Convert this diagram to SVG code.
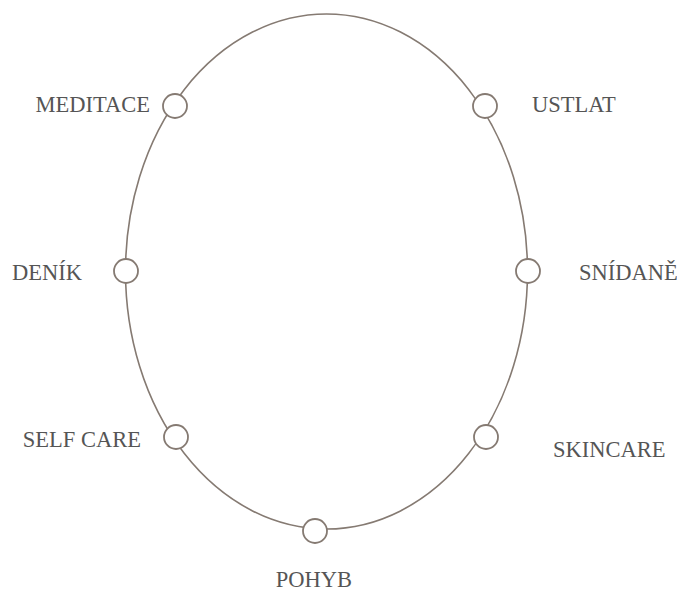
<svg xmlns="http://www.w3.org/2000/svg" width="677" height="593" viewBox="0 0 677 593">
<style>
.ring{fill:none;stroke:#857a72;stroke-width:1.6}
.dot{fill:#fff;stroke:#857a72;stroke-width:1.8}
.lbl{font-family:"Liberation Serif","DejaVu Serif",serif;font-size:22.5px;fill:#555;}
</style>
<rect width="677" height="593" fill="#fff"/>
<g id="connectors">
<ellipse class="ring" cx="326.5" cy="271.5" rx="201" ry="257.5"/>
</g>
<g id="meditace"><circle class="dot" cx="175" cy="106" r="12"/><text class="lbl" x="150" y="112" text-anchor="end">MEDITACE</text></g>
<g id="ustlat"><circle class="dot" cx="485" cy="106" r="12"/><text class="lbl" x="532" y="112">USTLAT</text></g>
<g id="denik"><circle class="dot" cx="126" cy="271" r="12"/><text class="lbl" x="12" y="280">DENÍK</text></g>
<g id="snidane"><circle class="dot" cx="528" cy="271" r="12"/><text class="lbl" x="579" y="280">SNÍDANĚ</text></g>
<g id="selfcare"><circle class="dot" cx="176" cy="437" r="12"/><text class="lbl" x="141" y="447" text-anchor="end">SELF CARE</text></g>
<g id="skincare"><circle class="dot" cx="486" cy="437" r="12"/><text class="lbl" x="553" y="457">SKINCARE</text></g>
<g id="pohyb"><circle class="dot" cx="315" cy="531" r="12"/><text class="lbl" x="314" y="587" text-anchor="middle">POHYB</text></g>
</svg>
